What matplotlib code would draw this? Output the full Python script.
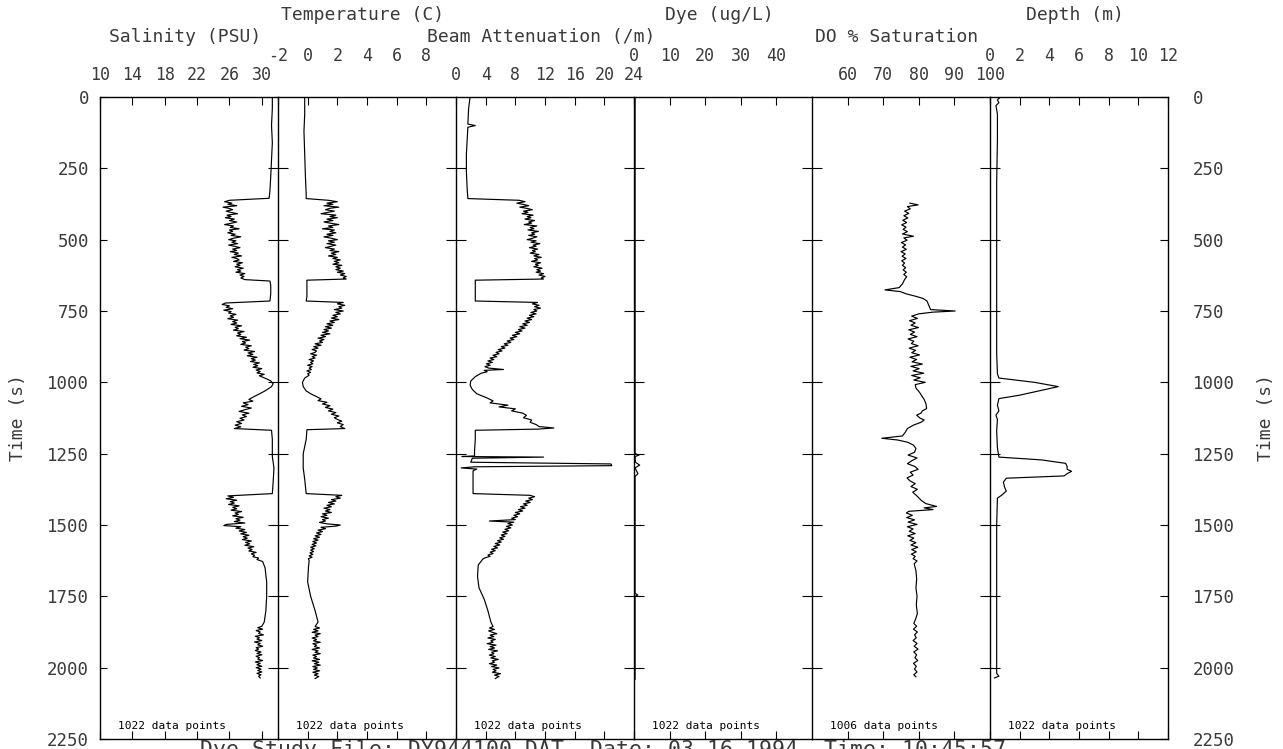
import matplotlib.pyplot as plt

W, H = 1283, 749
FONT = 'DejaVu Sans Mono'
INK = '#3a3a3a'

TIME_TICKS = list(range(0, 2251, 250))

# traces: (time s, value)
salinity = [
    (0, 31.3), (40, 31.3), (100, 31.2), (160, 31.3), (220, 31.2), (280, 31.1), (330, 31.0), (355, 30.9),
    (362, 26.0), (367, 25.4), (372, 26.3), (376, 25.8), (381, 26.9), (386, 25.2), (390, 25.9), (395, 26.4),
    (400, 25.6), (404, 26.1), (409, 27.0), (414, 25.7), (419, 26.2), (423, 25.5), (428, 26.6), (433, 26.0),
    (438, 26.9), (442, 26.3), (447, 25.4), (452, 26.5), (457, 26.1), (462, 27.2), (466, 26.0), (471, 26.4),
    (476, 25.8), (481, 26.7), (485, 26.2), (490, 27.4), (495, 26.5), (500, 25.9), (504, 26.8), (509, 26.3),
    (514, 27.0), (519, 25.9), (523, 26.6), (528, 27.3), (533, 26.4), (538, 26.9), (542, 26.1), (547, 27.1),
    (552, 26.6), (557, 27.5), (562, 26.3), (566, 26.9), (571, 27.2), (576, 26.5), (581, 27.6), (586, 26.9),
    (590, 27.3), (595, 26.7), (600, 27.7), (605, 27.0), (610, 27.4), (614, 26.8), (619, 27.9), (624, 27.3),
    (629, 27.8), (634, 27.4), (640, 27.9),
    (645, 31.0), (660, 31.1), (690, 31.1), (715, 31.0),
    (722, 25.5), (727, 25.1), (732, 26.0), (737, 25.6), (742, 26.4), (747, 25.3), (752, 26.2), (757, 25.9),
    (762, 26.8), (767, 26.1), (772, 26.5), (777, 25.8), (782, 27.0), (787, 26.4), (792, 26.9), (797, 26.2),
    (802, 27.5), (807, 26.7), (812, 27.1), (817, 26.5), (822, 27.8), (827, 27.0), (832, 27.4), (837, 26.9),
    (842, 28.1), (847, 27.3), (852, 28.5), (857, 27.6), (862, 28.0), (867, 27.4), (872, 28.7), (877, 28.0),
    (882, 28.4), (887, 27.8), (892, 29.1), (897, 28.3), (902, 28.9), (907, 28.2), (912, 29.4), (917, 28.7),
    (922, 29.2), (927, 28.6), (932, 29.7), (937, 29.0), (942, 29.5), (947, 28.9), (952, 30.0), (957, 29.3),
    (962, 29.8), (967, 29.4), (972, 30.3), (977, 29.7), (982, 30.1), (988, 30.6), (995, 31.1), (1005, 31.4),
    (1015, 31.2),
    (1030, 30.4), (1042, 29.6), (1052, 28.9), (1060, 28.4), (1066, 28.9), (1072, 27.7), (1078, 28.3),
    (1084, 27.5), (1090, 28.7), (1096, 27.9), (1102, 27.2), (1108, 28.4), (1114, 27.6), (1120, 28.1),
    (1126, 27.3), (1132, 27.8), (1138, 26.9), (1144, 27.5), (1150, 26.7), (1156, 27.4), (1162, 26.6),
    (1168, 31.2), (1200, 31.3), (1260, 31.3), (1300, 31.5), (1350, 31.4), (1390, 31.3),
    (1398, 25.8), (1403, 26.5), (1408, 25.6), (1413, 26.9), (1418, 26.1), (1423, 26.6), (1428, 25.9),
    (1433, 27.2), (1438, 26.4), (1443, 26.9), (1448, 26.2), (1453, 27.5), (1458, 26.7), (1463, 27.1),
    (1468, 26.4), (1473, 27.7), (1478, 26.8), (1483, 27.3), (1488, 26.6), (1493, 27.9), (1498, 25.6),
    (1502, 25.3), (1506, 27.4), (1511, 26.8), (1516, 27.9), (1521, 27.2), (1526, 28.1), (1531, 27.4),
    (1536, 28.4), (1541, 27.7), (1546, 28.2), (1551, 27.6), (1556, 28.7), (1561, 28.0), (1566, 28.5),
    (1571, 27.9), (1576, 29.0), (1581, 28.3), (1586, 28.8), (1591, 28.4), (1596, 29.3), (1601, 28.7),
    (1606, 29.1), (1611, 28.9), (1616, 29.6), (1621, 29.4), (1628, 30.1),
    (1650, 30.4), (1700, 30.6), (1750, 30.6), (1800, 30.5), (1840, 30.3),
    (1855, 30.0), (1860, 29.5), (1865, 30.1), (1870, 29.3), (1875, 29.8), (1880, 29.6), (1885, 30.2),
    (1890, 29.2), (1895, 29.7), (1900, 29.4), (1905, 30.0), (1910, 29.1), (1915, 29.8), (1920, 29.5),
    (1925, 30.1), (1930, 29.3), (1935, 29.6), (1940, 29.2), (1945, 29.9), (1950, 29.4), (1955, 30.0),
    (1960, 29.3), (1965, 29.7), (1970, 29.5), (1975, 30.1), (1980, 29.2), (1985, 29.8), (1990, 29.4),
    (1995, 30.0), (2000, 29.3), (2005, 29.9), (2010, 29.5), (2015, 30.0), (2020, 29.4), (2025, 29.9),
    (2030, 29.6), (2036, 29.8),
]

temperature = [
    (0, -0.2), (60, -0.2), (120, -0.25), (200, -0.2), (280, -0.15), (340, -0.1), (356, -0.1),
    (362, 1.4), (367, 2.0), (372, 1.3), (376, 1.7), (381, 1.1), (386, 2.1), (390, 1.5), (395, 1.2),
    (400, 1.8), (404, 1.4), (409, 0.9), (414, 1.9), (419, 1.5), (423, 2.0), (428, 1.3), (433, 1.7),
    (438, 1.1), (442, 1.5), (447, 2.1), (452, 1.4), (457, 1.7), (462, 1.0), (466, 1.8), (471, 1.5),
    (476, 1.9), (481, 1.3), (485, 1.7), (490, 1.1), (495, 1.6), (500, 2.0), (504, 1.4), (509, 1.8),
    (514, 1.3), (519, 1.9), (523, 1.6), (528, 1.2), (533, 1.8), (538, 1.5), (542, 2.1), (547, 1.6),
    (552, 1.9), (557, 1.4), (562, 2.0), (566, 1.7), (571, 2.2), (576, 1.8), (581, 2.1), (586, 1.7),
    (590, 2.3), (595, 1.9), (600, 2.2), (605, 1.9), (610, 2.4), (614, 2.0), (619, 2.5), (624, 2.2),
    (629, 2.6), (634, 2.4), (638, 2.6),
    (642, -0.05), (670, -0.05), (700, -0.05), (715, -0.1),
    (720, 2.4), (725, 2.0), (730, 2.5), (735, 2.1), (740, 2.3), (745, 1.8), (750, 2.4), (755, 1.9),
    (760, 2.2), (765, 1.7), (770, 2.0), (775, 1.6), (780, 2.1), (785, 1.5), (790, 1.8), (795, 1.3),
    (800, 1.7), (805, 1.2), (810, 1.6), (815, 1.1), (820, 1.4), (825, 1.0), (830, 1.5), (835, 0.9),
    (840, 1.2), (845, 0.7), (850, 1.1), (855, 0.8), (860, 1.0), (865, 0.5), (870, 0.9), (875, 0.4),
    (880, 0.7), (885, 0.3), (890, 0.6), (895, 0.5), (900, 0.2), (905, 0.6), (910, 0.3), (915, 0.5),
    (920, 0.1), (925, 0.4), (930, 0.2), (935, 0.35), (940, 0.0), (945, 0.3), (950, 0.1), (955, 0.25),
    (960, -0.05), (965, 0.2), (970, 0.0), (975, 0.1), (985, -0.2), (1000, -0.35), (1015, -0.3),
    (1030, -0.1), (1040, 0.2), (1050, 0.6), (1058, 0.9), (1064, 0.7), (1070, 1.3), (1076, 1.0),
    (1082, 1.5), (1088, 1.2), (1094, 1.7), (1100, 1.4), (1106, 1.9), (1112, 1.6), (1118, 2.1),
    (1124, 1.8), (1130, 2.0), (1136, 2.3), (1142, 2.0), (1148, 2.4), (1155, 2.2), (1162, 2.5),
    (1166, -0.05), (1200, -0.1), (1250, -0.3), (1300, -0.3), (1340, -0.2), (1390, -0.1),
    (1396, 2.3), (1401, 1.9), (1406, 2.2), (1411, 1.6), (1416, 1.9), (1421, 1.4), (1426, 1.8),
    (1431, 1.3), (1436, 1.6), (1441, 1.1), (1446, 1.5), (1451, 1.2), (1456, 1.6), (1461, 1.0),
    (1466, 1.3), (1471, 0.9), (1476, 1.4), (1481, 1.0), (1486, 1.2), (1491, 0.8), (1496, 1.3),
    (1500, 2.2), (1504, 1.9), (1508, 0.9), (1513, 1.2), (1518, 0.7), (1523, 1.0), (1528, 0.6),
    (1533, 0.9), (1538, 0.5), (1543, 0.8), (1548, 0.4), (1553, 0.7), (1558, 0.35), (1563, 0.6),
    (1568, 0.3), (1573, 0.55), (1578, 0.2), (1583, 0.45), (1588, 0.2), (1593, 0.4), (1598, 0.15),
    (1603, 0.35), (1608, 0.1), (1613, 0.3), (1618, 0.05), (1625, 0.1),
    (1650, 0.05), (1700, 0.0), (1750, 0.2), (1800, 0.5), (1840, 0.7),
    (1856, 0.5), (1861, 0.8), (1866, 0.4), (1871, 0.7), (1876, 0.3), (1881, 0.85), (1886, 0.5),
    (1891, 0.7), (1896, 0.3), (1901, 0.6), (1906, 0.4), (1911, 0.85), (1916, 0.35), (1921, 0.6),
    (1926, 0.45), (1931, 0.8), (1936, 0.3), (1941, 0.7), (1946, 0.5), (1951, 0.85), (1956, 0.35),
    (1961, 0.6), (1966, 0.4), (1971, 0.8), (1976, 0.3), (1981, 0.75), (1986, 0.45), (1991, 0.85),
    (1996, 0.35), (2001, 0.65), (2006, 0.4), (2011, 0.8), (2016, 0.35), (2021, 0.7), (2026, 0.45),
    (2031, 0.75), (2038, 0.5),
]

beam = [
    (0, 1.9), (20, 1.8), (40, 1.7), (95, 1.6), (100, 2.6), (106, 1.6), (150, 1.5), (200, 1.4),
    (260, 1.4), (320, 1.5), (356, 1.6),
    (362, 8.5), (367, 9.3), (372, 8.2), (376, 9.0), (381, 9.8), (386, 8.6), (390, 9.5), (395, 10.3),
    (400, 9.1), (404, 9.7), (409, 8.9), (414, 10.4), (419, 9.6), (423, 10.1), (428, 9.3), (433, 10.6),
    (438, 9.8), (442, 10.2), (447, 9.2), (452, 10.9), (457, 10.0), (462, 10.5), (466, 9.7), (471, 11.1),
    (476, 10.2), (481, 10.6), (485, 9.8), (490, 10.9), (495, 10.3), (500, 9.6), (504, 10.8), (509, 10.1),
    (514, 11.3), (519, 10.4), (523, 10.8), (528, 9.9), (533, 11.0), (538, 10.3), (542, 10.7), (547, 10.0),
    (552, 11.2), (557, 10.5), (562, 11.5), (566, 10.6), (571, 11.0), (576, 10.2), (581, 11.4), (586, 10.7),
    (590, 11.1), (595, 10.5), (600, 11.6), (605, 10.9), (610, 11.4), (614, 10.8), (619, 11.8), (624, 11.2),
    (629, 12.0), (634, 11.5), (638, 11.8),
    (642, 2.6), (670, 2.6), (700, 2.6), (715, 2.6),
    (720, 11.0), (725, 10.3), (730, 11.2), (735, 10.6), (740, 11.4), (745, 10.5), (750, 10.9), (755, 10.1),
    (760, 10.8), (765, 9.9), (770, 10.5), (775, 9.6), (780, 10.2), (785, 9.3), (790, 9.9), (795, 9.0),
    (800, 9.6), (805, 8.6), (810, 9.3), (815, 8.4), (820, 8.9), (825, 8.0), (830, 8.6), (835, 7.6),
    (840, 8.2), (845, 7.3), (850, 7.8), (855, 6.9), (860, 7.4), (865, 6.5), (870, 7.0), (875, 6.1),
    (880, 6.6), (885, 5.7), (890, 6.2), (895, 5.4), (900, 5.8), (905, 5.0), (910, 5.5), (915, 4.6),
    (920, 5.1), (925, 4.3), (930, 4.9), (935, 4.1), (940, 4.6), (945, 3.9), (950, 4.4), (955, 6.4),
    (958, 3.8), (963, 4.2), (968, 3.4), (974, 3.0), (980, 2.6), (995, 2.0), (1010, 1.9), (1025, 2.2),
    (1040, 2.8), (1055, 4.2), (1065, 5.0), (1072, 4.6), (1080, 7.0), (1086, 5.8), (1093, 8.0),
    (1100, 7.5), (1108, 9.0), (1116, 9.5), (1124, 9.1), (1132, 10.2), (1140, 10.0), (1148, 10.8),
    (1155, 11.2), (1160, 13.2), (1164, 11.0),
    (1168, 2.6), (1200, 2.6), (1240, 2.5), (1258, 2.5), (1260, 0.8), (1262, 11.8), (1266, 2.2),
    (1280, 2.0), (1286, 20.9), (1292, 21.0), (1296, 2.5), (1300, 0.7), (1304, 2.8), (1310, 2.3),
    (1350, 2.3), (1390, 2.3),
    (1396, 10.0), (1401, 10.6), (1406, 9.8), (1411, 10.3), (1416, 9.4), (1421, 10.0), (1426, 9.1),
    (1431, 9.6), (1436, 8.7), (1441, 9.3), (1446, 8.4), (1451, 9.0), (1456, 8.0), (1461, 8.6),
    (1466, 7.8), (1471, 8.3), (1476, 7.5), (1481, 8.0), (1486, 4.5), (1490, 7.8), (1495, 7.0),
    (1500, 7.6), (1505, 6.8), (1510, 7.4), (1515, 6.6), (1520, 7.1), (1525, 6.3), (1530, 6.9),
    (1535, 6.1), (1540, 6.6), (1545, 5.9), (1550, 6.4), (1555, 5.6), (1560, 6.1), (1565, 5.3),
    (1570, 5.9), (1575, 5.1), (1580, 5.6), (1585, 4.8), (1590, 5.3), (1595, 4.6), (1600, 5.0),
    (1605, 4.3), (1610, 4.6), (1615, 3.9), (1620, 3.6),
    (1640, 3.0), (1680, 2.9), (1720, 3.1), (1760, 3.8), (1800, 4.3), (1840, 4.7),
    (1856, 5.0), (1861, 4.5), (1866, 5.2), (1871, 4.4), (1876, 4.9), (1881, 5.5), (1886, 4.6),
    (1891, 5.1), (1896, 4.3), (1901, 5.3), (1906, 4.7), (1911, 5.0), (1916, 4.2), (1921, 5.4),
    (1926, 4.6), (1931, 5.2), (1936, 4.4), (1941, 5.6), (1946, 4.8), (1951, 5.1), (1956, 4.5),
    (1961, 5.3), (1966, 4.7), (1971, 5.7), (1976, 4.9), (1981, 5.2), (1986, 4.5), (1991, 5.5),
    (1996, 4.8), (2001, 5.8), (2006, 5.0), (2011, 5.4), (2016, 4.9), (2021, 6.0), (2026, 5.2),
    (2031, 5.8), (2038, 5.3),
]

dye = [
    (0, 0.3), (400, 0.3), (1000, 0.3), (1250, 0.3), (1255, 1.4), (1260, 0.3), (1280, 0.4),
    (1290, 1.6), (1300, 0.3), (1320, 1.1), (1330, 0.3), (1740, 0.3), (1745, 1.1), (1750, 0.3),
    (2040, 0.3),
]

do_sat = [
    (372, 77.5), (378, 79.8), (384, 76.8), (392, 77.6), (400, 76.0), (408, 77.2), (416, 75.8),
    (424, 76.9), (432, 75.5), (440, 76.6), (448, 75.2), (456, 76.4), (464, 75.6), (472, 76.8),
    (480, 75.4), (488, 78.5), (494, 75.8), (502, 76.7), (510, 75.1), (518, 76.3), (526, 75.4),
    (534, 76.5), (542, 75.0), (550, 76.2), (558, 75.3), (566, 76.4), (574, 75.2), (582, 76.0),
    (590, 75.4), (598, 76.3), (606, 75.6), (614, 76.5), (622, 75.8), (630, 76.6), (640, 76.0),
    (655, 75.4), (668, 74.5), (676, 70.5), (682, 74.8), (690, 76.5), (698, 79.0), (706, 81.2),
    (715, 82.3), (730, 82.8), (745, 83.3), (750, 90.2), (754, 84.0), (760, 80.0),
    (768, 78.0), (776, 79.6), (784, 77.4), (792, 79.0), (800, 77.8), (808, 79.9), (816, 77.2),
    (824, 78.8), (832, 77.6), (840, 79.5), (848, 77.0), (856, 78.6), (864, 77.9), (872, 79.8),
    (880, 77.3), (888, 79.1), (896, 78.0), (904, 80.2), (912, 77.5), (920, 79.4), (928, 78.1),
    (936, 81.0), (944, 77.8), (952, 80.1), (960, 78.4), (968, 81.4), (976, 78.0), (984, 80.4),
    (992, 78.6), (1000, 81.8), (1008, 79.0),
    (1020, 79.2), (1035, 80.2), (1050, 81.0), (1060, 81.5), (1075, 82.0), (1092, 82.2), (1100, 81.0),
    (1108, 80.6), (1115, 79.4), (1125, 80.3), (1132, 81.5), (1140, 80.6), (1150, 78.5), (1162, 76.8),
    (1175, 76.2), (1188, 75.4), (1196, 69.6), (1202, 74.0), (1210, 76.9), (1220, 78.5), (1232, 79.2),
    (1245, 78.8), (1255, 77.0), (1265, 79.5), (1275, 78.0), (1285, 76.8), (1295, 78.9), (1305, 79.8),
    (1315, 77.6), (1325, 78.4), (1335, 76.7), (1345, 77.5), (1355, 79.0), (1365, 77.8), (1375, 79.6),
    (1385, 78.3), (1395, 79.2), (1405, 80.0), (1415, 80.8), (1425, 82.0), (1435, 85.0), (1440, 81.5),
    (1446, 84.0), (1452, 77.2), (1458, 76.5),
    (1466, 78.2), (1474, 76.6), (1482, 78.8), (1490, 77.0), (1498, 79.5), (1506, 76.8), (1514, 78.4),
    (1522, 77.3), (1530, 79.0), (1538, 76.9), (1546, 78.6), (1554, 77.5), (1562, 79.2), (1570, 77.8),
    (1578, 79.7), (1586, 78.0), (1594, 79.3), (1602, 77.9), (1610, 79.0), (1618, 78.4), (1626, 79.5),
    (1636, 78.7),
    (1660, 79.2), (1690, 79.4), (1720, 79.2), (1750, 79.5), (1780, 79.3), (1810, 79.6), (1830, 79.1),
    (1845, 78.6), (1855, 79.4), (1865, 78.5), (1875, 79.6), (1885, 78.8), (1895, 79.3), (1905, 78.4),
    (1915, 79.5), (1925, 78.7), (1935, 79.8), (1945, 78.6), (1955, 79.4), (1965, 78.9), (1975, 79.7),
    (1985, 78.5), (1995, 79.3), (2005, 78.8), (2015, 79.5), (2025, 78.6), (2032, 79.2),
]

depth = [
    (0, 0.7), (10, 0.5), (20, 0.6), (30, 0.4), (60, 0.5), (150, 0.5), (300, 0.45), (500, 0.45),
    (700, 0.45), (900, 0.45), (970, 0.5), (985, 0.6), (1000, 3.0), (1015, 4.6), (1030, 3.3),
    (1045, 2.0), (1057, 0.6), (1080, 0.5), (1100, 0.6), (1115, 0.4), (1130, 0.5), (1170, 0.45),
    (1230, 0.5), (1262, 0.6), (1272, 3.5), (1284, 5.1), (1295, 5.2), (1305, 5.2), (1312, 5.5),
    (1320, 5.2), (1328, 5.0), (1336, 1.1), (1350, 0.9), (1370, 1.0), (1381, 1.1), (1395, 0.8),
    (1406, 0.5), (1500, 0.45), (1700, 0.45), (1900, 0.45), (2020, 0.45), (2030, 0.6), (2036, 0.3),
]

panels = [
    dict(title='Salinity (PSU)', data=salinity, lim=(10, 32), ticks=[10, 14, 18, 22, 26, 30], upper=False, n=1022),
    dict(title='Temperature (C)', data=temperature, lim=(-2, 10), ticks=[-2, 0, 2, 4, 6, 8], upper=True, n=1022),
    dict(title='Beam Attenuation (/m)', data=beam, lim=(0, 24), ticks=[0, 4, 8, 12, 16, 20, 24], upper=False, n=1022),
    dict(title='Dye (ug/L)', data=dye, lim=(0, 50), ticks=[0, 10, 20, 30, 40], upper=True, n=1022),
    dict(title='DO % Saturation', data=do_sat, lim=(50, 100), ticks=[60, 70, 80, 90, 100], upper=False, n=1006),
    dict(title='Depth (m)', data=depth, lim=(0, 12), ticks=[0, 2, 4, 6, 8, 10, 12], upper=True, n=1022),
]

plt.rcParams['font.family'] = FONT

fig = plt.figure(figsize=(W / 100, H / 100), dpi=100)

x0, pw, top, bot = 100, 178, 97, 739
for i, p in enumerate(panels):
    ax = fig.add_axes([(x0 + pw * i) / W, 1 - bot / H, pw / W, (bot - top) / H])
    t, v = zip(*p['data'])
    ax.plot(v, t, color='black', lw=0.85)
    ax.set_xlim(*p['lim'])
    ax.set_ylim(2250, 0)

    for side in ['left', 'top', 'bottom', 'right']:
        ax.spines[side].set_linewidth(1.0)
    if i < 5:
        ax.spines['right'].set_visible(False)

    ax.set_xticks(p['ticks'])
    ax.set_xticklabels([str(k) for k in p['ticks']])
    ax.tick_params(axis='x', top=True, bottom=True, labeltop=True, labelbottom=False,
                   direction='in', length=6, labelsize=12, labelcolor=INK,
                   pad=23 if p['upper'] else 9)

    if i == 0:
        ax.set_yticks(TIME_TICKS)
        ax.tick_params(axis='y', direction='in', length=5, labelsize=12.5, labelcolor=INK, pad=8)
        ax.set_ylabel('Time (s)', fontsize=13, color=INK, labelpad=14)
    else:
        ax.set_yticks(TIME_TICKS[1:-1])
        ax.tick_params(axis='y', direction='inout', length=14, labelleft=False)

    if i == 5:
        axr = ax.twinx()
        axr.set_ylim(2250, 0)
        axr.set_yticks(TIME_TICKS)
        axr.tick_params(axis='y', direction='in', length=6, labelsize=12.5, labelcolor=INK, pad=18)
        axr.set_ylabel('Time (s)', fontsize=13, color=INK, labelpad=16)
        for s in axr.spines.values():
            s.set_visible(False)

    ax.text(0.1, 0.012, f"{p['n']} data points", transform=ax.transAxes,
            fontsize=8, color='black', ha='left', va='bottom')

    ty = 15 if p['upper'] else 37
    fig.text((x0 + pw * i + pw / 2 - 4) / W, 1 - ty / H, p['title'],
             fontsize=13, color=INK, ha='center', va='center')

fig.text(200 / W, 1 - 740 / H, 'Dye Study File: DY944100.DAT  Date: 03-16-1994  Time: 10:45:57',
         fontsize=15.5, color=INK, ha='left', va='top')

fig.savefig('out.png', dpi=100)
